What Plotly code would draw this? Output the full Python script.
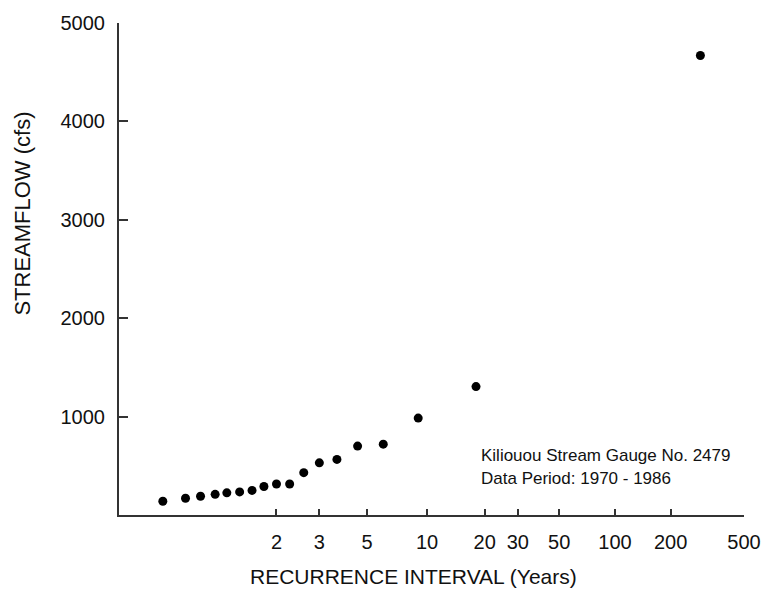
import numpy as np
import plotly.graph_objects as go

# Recurrence interval (years) and annual peak streamflow (cfs)
recurrence_years = [1.06, 1.13, 1.2, 1.29, 1.38, 1.5, 1.64, 1.8, 2.0, 2.25,
                    2.57, 3.0, 3.6, 4.5, 6.0, 9.0, 18.0, 290.0]
streamflow_cfs = [140, 170, 190, 210, 225, 235, 250, 290, 315, 315,
                  430, 530, 565, 700, 720, 985, 1305, 4670]

x_tick_labels = ["2", "3", "5", "10", "20", "30", "50", "100", "200", "500"]
y_tick_values = [1000, 2000, 3000, 4000, 5000]


def gumbel(t):
    t = np.asarray(t, dtype=float)
    return -np.log(-np.log(1.0 - 1.0 / t))


W, H = 773, 597
L, R, T, B = 119, 19, 18, 82
x_max = float(gumbel(500))
x_min = float(gumbel(2)) - (279 - L) / ((W - R - 279) / (x_max - float(gumbel(2))))

FONT = "Liberation Sans, Arial, Helvetica, sans-serif"
INK = "#111111"

fig = go.Figure()
fig.add_trace(go.Scatter(
    x=gumbel(recurrence_years), y=streamflow_cfs, mode="markers",
    marker=dict(color="black", size=9, line=dict(width=0)),
    showlegend=False, hoverinfo="skip"))

fig.update_layout(
    width=W, height=H,
    margin=dict(l=L, r=R, t=T, b=B, pad=0),
    paper_bgcolor="white", plot_bgcolor="white",
    font=dict(family=FONT, color=INK),
    xaxis=dict(range=[x_min, x_max], showgrid=False, zeroline=False,
               showline=True, linecolor="#333", linewidth=2,
               ticks="inside", ticklen=6, tickwidth=1.5, tickcolor="#333",
               tickmode="array", tickvals=gumbel([int(v) for v in x_tick_labels]).tolist(),
               ticktext=x_tick_labels, tickfont=dict(size=20, color=INK),
               ticklabelstandoff=8),
    yaxis=dict(range=[0, 5000], showgrid=False, zeroline=False,
               showline=True, linecolor="#333", linewidth=2,
               ticks="inside", ticklen=9, tickwidth=1.5, tickcolor="#333",
               tickmode="array", tickvals=y_tick_values,
               tickfont=dict(size=20, color=INK), ticklabelstandoff=8),
)

pw = W - L - R
ph = H - T - B


def px(xp):
    return (xp - L) / pw


def py(yp):
    return (H - B - yp) / ph


annos = [
    dict(text="RECURRENCE INTERVAL (Years)", x=px(418), y=py(577), size=21, angle=0,
         xanchor="center"),
    dict(text="STREAMFLOW (cfs)", x=px(20), y=py(211), size=22, angle=-90,
         xanchor="center"),
    dict(text="Kiliouou Stream Gauge No. 2479", x=px(485), y=py(455), size=17, angle=0,
         xanchor="left"),
    dict(text="Data Period: 1970 - 1986", x=px(485), y=py(478), size=17, angle=0,
         xanchor="left"),
]
for a in annos:
    fig.add_annotation(text=a["text"], x=a["x"], y=a["y"], xref="paper", yref="paper",
                       xanchor=a["xanchor"], yanchor="middle", showarrow=False,
                       textangle=a["angle"], font=dict(size=a["size"], color=INK, family=FONT))

fig.write_html("out.html")
